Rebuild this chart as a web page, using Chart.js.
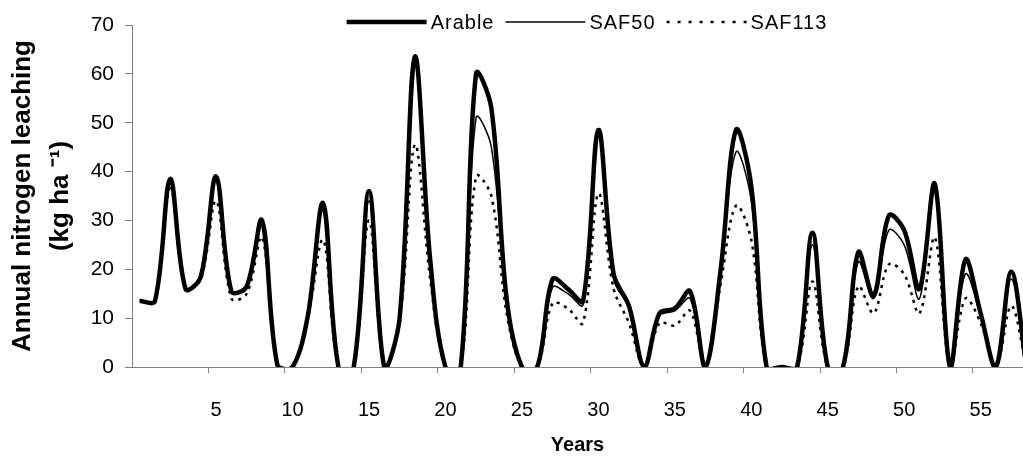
<!doctype html>
<html lang="en">
<head>
  <meta charset="utf-8">
  <title>Annual nitrogen leaching</title>
  <script src="https://cdn.jsdelivr.net/npm/chart.js"></script>
  <style>
    body { margin: 0; background: #fff; }
    #wrap { width: 1023px; height: 457px; }
  </style>
</head>
<body>
<div id="wrap"><canvas id="leachChart" width="1023" height="457"></canvas></div>

<script>
  // years simulated (category index) and the labelled ones
  const years = [0, 1, 2, 3, 4, 5, 6, 7, 8, 9, 10, 11, 12, 13, 14, 15, 16, 17, 18, 19,
    20, 21, 22, 23, 24, 25, 26, 27, 28, 29, 30, 31, 32, 33, 34, 35, 36, 37, 38, 39,
    40, 41, 42, 43, 44, 45, 46, 47, 48, 49, 50, 51, 52, 53, 54, 55, 56, 57, 58];
  const yearLabels = [5, 10, 15, 20, 25, 30, 35, 40, 45, 50, 55];
  const leachTicks = [0, 10, 20, 30, 40, 50, 60, 70];

  // annual N leaching, kg/ha
  const arable = [13.5, 13.5, 38.5, 16, 18.5, 39, 15.5, 16.5, 30, 0.5,
    0, 10.5, 33.5, 0, 0, 36, 0, 10, 63.5, 22,
    0, 0, 60, 53, 14, 0, 0, 18, 16, 13.5,
    48.5, 19, 12.5, 0, 11, 12, 15.5, 0, 20, 48.5,
    37, 0, 0, 0, 27.5, 0, 0, 23.5, 14.5, 31,
    28, 16, 37.5, 0, 22, 11, 0, 19.5, 0];
  const saf50 = [13.5, 13.5, 37.5, 16, 18.5, 38, 15.5, 16, 29, 0.5,
    0, 10, 32, 0, 0, 34, 0, 10, 62, 21,
    0, 0, 51, 45, 13, 0, 0, 16.3, 15, 12.7,
    47.5, 18, 12, 0, 10.5, 11.5, 14, 0, 19.5, 44,
    34, 0, 0, 0, 25, 0, 0, 21.5, 14, 28,
    25, 14, 36.5, 0, 19, 10.5, 0, 18, 0];
  const saf113 = [13.5, 13.5, 36.5, 16, 18, 34, 14, 15, 26.5, 0.5,
    0, 10, 26, 0, 0, 30, 0, 9, 45.5, 18,
    0, 0, 39, 35, 11, 0, 0, 13, 12, 9,
    35.5, 16, 9, 0, 9, 8.5, 11.5, 0, 17, 33,
    26, 0, 0, 0, 17.5, 0, 0, 16.5, 11, 21,
    19, 11, 26.5, 0, 14, 9, 0, 12.5, 0];

  const FONT = '"Liberation Sans", Arial, sans-serif';
  const AXIS_GREY = '#808080';

  function toPoints(values) {
    return years.map((yr, i) => ({ x: yr, y: values[i] }));
  }

  // legend drawn as a line strip above the plot, like the original
  const lineLegend = {
    id: 'lineLegend',
    afterDraw(chart) {
      const ctx = chart.ctx;
      const sets = chart.data.datasets;
      const lineLen = 80, toText = 4, toNext = 11, centre = 587, y = 22;
      ctx.save();
      ctx.font = '20px ' + FONT;
      ctx.letterSpacing = '1px';
      ctx.textBaseline = 'middle';
      ctx.fillStyle = '#000';
      let total = 0;
      sets.forEach((ds, i) => {
        total += lineLen + toText + ctx.measureText(ds.label).width;
        if (i < sets.length - 1) total += toNext;
      });
      let x = centre - total / 2;
      sets.forEach(ds => {
        ctx.beginPath();
        ctx.strokeStyle = ds.borderColor;
        ctx.lineWidth = ds.borderWidth;
        ctx.setLineDash(ds.legendDash || ds.borderDash || []);
        ctx.moveTo(x, y);
        ctx.lineTo(x + lineLen, y);
        ctx.stroke();
        x += lineLen + toText;
        ctx.fillText(ds.label, x, y + 1);
        x += ctx.measureText(ds.label).width + toNext;
      });
      ctx.restore();
    }
  };

  const ctx = document.getElementById('leachChart').getContext('2d');
  new Chart(ctx, {
    type: 'line',
    data: {
      datasets: [
        { label: 'Arable', data: toPoints(arable), borderColor: '#000', borderWidth: 4.5 },
        { label: 'SAF50', data: toPoints(saf50), borderColor: '#000', borderWidth: 1.5 },
        { label: 'SAF113', data: toPoints(saf113), borderColor: '#000', borderWidth: 2.5,
          borderDash: [3, 5], legendDash: [3, 8] }
      ]
    },
    options: {
      responsive: false,
      animation: false,
      devicePixelRatio: 1,
      layout: { padding: { top: 25, right: 0, bottom: 0, left: 0 } },
      elements: {
        point: { radius: 0, hoverRadius: 0 },
        line: { tension: 0.35, capBezierPoints: false, fill: false }
      },
      datasets: { line: { clip: 0 } },
      plugins: {
        legend: { display: false },
        tooltip: { enabled: false }
      },
      scales: {
        x: {
          type: 'linear',
          min: -0.5,
          max: 57.77,
          afterBuildTicks: axis => {
            // tick marks sit between categories, labels on the category
            axis.ticks = yearLabels.map(v => ({ value: v - 0.5 }));
          },
          afterFit: axis => { axis.height = 90; },
          grid: { drawOnChartArea: false, tickLength: 6, color: AXIS_GREY, tickColor: AXIS_GREY },
          border: { color: AXIS_GREY, width: 1 },
          ticks: {
            color: '#000',
            font: { family: FONT, size: 20 },
            padding: 25,
            labelOffset: 7.65,
            maxRotation: 0,
            autoSkip: false,
            callback: v => String(Math.round(v + 0.5))
          },
          title: {
            display: true,
            text: 'Years',
            color: '#000',
            font: { family: FONT, size: 20, weight: 'bold' },
            padding: { top: 0, bottom: 0 }
          }
        },
        y: {
          min: 0,
          max: 70,
          afterBuildTicks: axis => {
            axis.ticks = leachTicks.map(v => ({ value: v }));
          },
          afterFit: axis => { axis.width = 132; },
          grid: { drawOnChartArea: false, tickLength: 7, color: AXIS_GREY, tickColor: AXIS_GREY },
          border: { color: AXIS_GREY, width: 1 },
          ticks: {
            color: '#000',
            font: { family: FONT, size: 21 },
            padding: 11
          },
          title: {
            display: true,
            text: ['Annual nitrogen leaching', '(kg ha \u207B\u00B9)'],
            color: '#000',
            font: { family: FONT, size: 26, weight: 'bold', lineHeight: 1.46 },
            padding: { top: 4, bottom: 0 }
          }
        }
      }
    },
    plugins: [lineLegend]
  });
</script>
</body>
</html>
